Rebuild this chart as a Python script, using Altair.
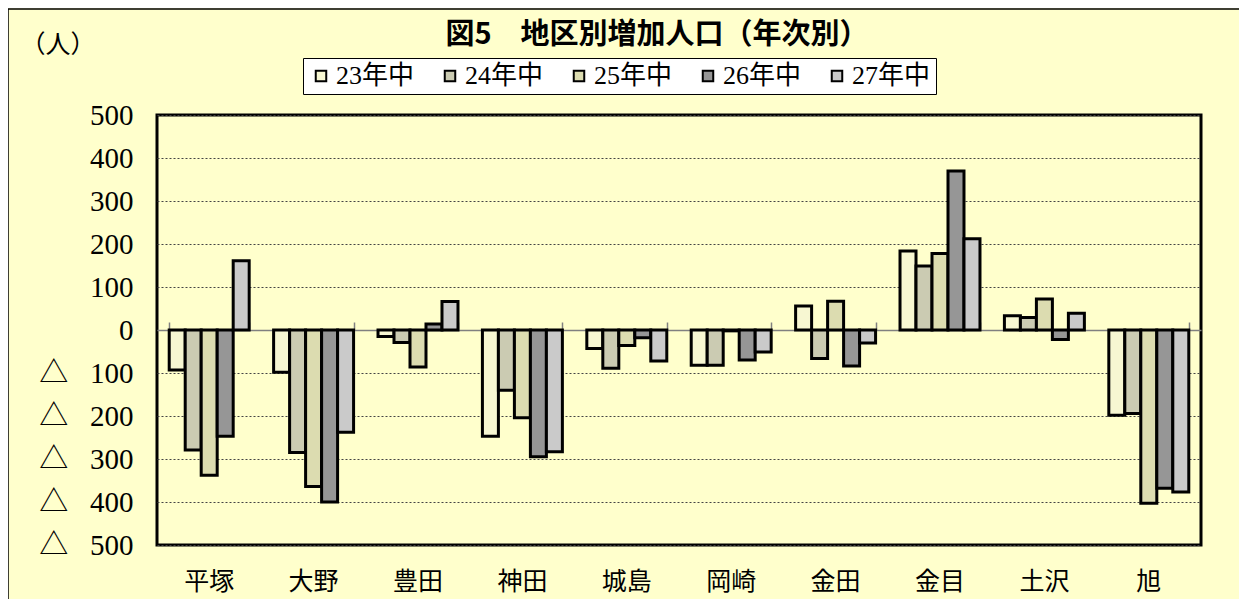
import altair as alt
import pandas as pd

districts = ["平塚", "大野", "豊田", "神田", "城島", "岡崎", "金田", "金目", "土沢", "旭"]
series = ["23年中", "24年中", "25年中", "26年中", "27年中"]
v23 = [-93, -98, -15, -247, -43, -82, 56, 184, 33, -198]
v24 = [-279, -285, -29, -140, -89, -82, -66, 149, 29, -194]
v25 = [-338, -364, -86, -204, -36, -2, 67, 178, 72, -403]
v26 = [-247, -400, 14, -295, -18, -70, -84, 370, -22, -368]
v27 = [161, -238, 66, -283, -72, -51, -30, 212, 39, -377]
colors = ["#F7F7D2", "#CBCBB2", "#DCDCB0", "#969696", "#CACACA"]
title_text = "図5　地区別増加人口（年次別）"
unit_text = "（人）"

rows = []
for s, vals in zip(series, [v23, v24, v25, v26, v27]):
    for d, v in zip(districts, vals):
        rows.append({"地区": d, "年": s, "人口": v})
df = pd.DataFrame(rows)

SERIF = "Liberation Serif, Noto Sans CJK JP"
CJK = "Noto Sans CJK JP"
W, H = 1044, 430

xscale = alt.Scale(paddingInner=0.234, paddingOuter=0.117)
yscale = alt.Scale(domain=[-500, 500], nice=False)
yaxis = alt.Axis(title=None, values=list(range(-500, 501, 100)),
                 labelExpr="datum.value < 0 ? '△\u2002 ' + format(-datum.value, 'd') : format(datum.value, 'd')",
                 labelFont=SERIF, labelFontSize=29, labelColor="#000",
                 labelPadding=24, ticks=False, domain=False,
                 grid=True, gridColor="#444", gridDash=[2, 2], gridWidth=1)

bars = alt.Chart(df).mark_bar(stroke="black", strokeWidth=3).encode(
    x=alt.X("地区:N", sort=districts, scale=xscale,
            axis=alt.Axis(title=None, orient="bottom", domain=False, ticks=False,
                          labelFont=CJK, labelFontSize=25, labelColor="#000",
                          labelPadding=24, labelBaseline="top", labelAngle=0)),
    xOffset=alt.XOffset("年:N", sort=series, scale=alt.Scale(paddingInner=0, paddingOuter=0)),
    y=alt.Y("人口:Q", scale=yscale, axis=yaxis),
    fill=alt.Fill("年:N", sort=series,
                  scale=alt.Scale(domain=series, range=colors),
                  legend=alt.Legend(title=None, orient="none", legendX=146, legendY=-57,
                                    direction="horizontal", columns=5,
                                    fillColor="white", strokeColor="black",
                                    padding=5, columnPadding=22,
                                    symbolType="square", symbolSize=110,
                                    symbolStrokeColor="black", symbolStrokeWidth=2,
                                    labelFont=SERIF, labelFontSize=26, labelColor="#000",
                                    labelOffset=2)),
)

zero_axis = alt.Chart(df).mark_bar(opacity=0).encode(
    x=alt.X("地区:N", sort=districts, scale=xscale,
            axis=alt.Axis(title=None, orient="top", offset=-H / 2, labels=False,
                          domain=True, domainColor="#808080", domainWidth=1.5,
                          ticks=True, tickBand="extent", tickSize=8,
                          tickColor="#808080", tickWidth=1.5)),
    y=alt.Y("人口:Q", scale=yscale, axis=yaxis),
)

texts = pd.DataFrame({"t": [title_text, unit_text], "kind": ["title", "unit"]})
title = alt.Chart(texts).transform_filter(alt.datum.kind == "title").mark_text(
    font=CJK, fontSize=29, fontWeight="bold", color="#000", align="center", baseline="middle"
).encode(x=alt.value(500), y=alt.value(-80), text="t:N")

unit = alt.Chart(texts).transform_filter(alt.datum.kind == "unit").mark_text(
    font=CJK, fontSize=25, color="#000", align="center", baseline="middle"
).encode(x=alt.value(-99), y=alt.value(-70), text="t:N")

frame = alt.Chart(texts).transform_filter(alt.datum.kind == "title").mark_rect(
    fill=None, stroke="black", strokeWidth=1.5, clip=False
).encode(x=alt.value(-149), x2=alt.value(W + 87), y=alt.value(-106), y2=alt.value(H + 70))

chart = alt.layer(frame, bars, zero_axis, title, unit).resolve_axis(x="independent").properties(
    width=W, height=H,
    padding={"left": 149, "top": 107, "right": 38, "bottom": 54},
    autosize=alt.AutoSizeParams(type="none"),
    background="#FFFFCC",
).configure_view(stroke="black", strokeWidth=3, fill="#FFFFCC")

chart.save("out.html", embed_options={"renderer": "svg", "actions": False})
